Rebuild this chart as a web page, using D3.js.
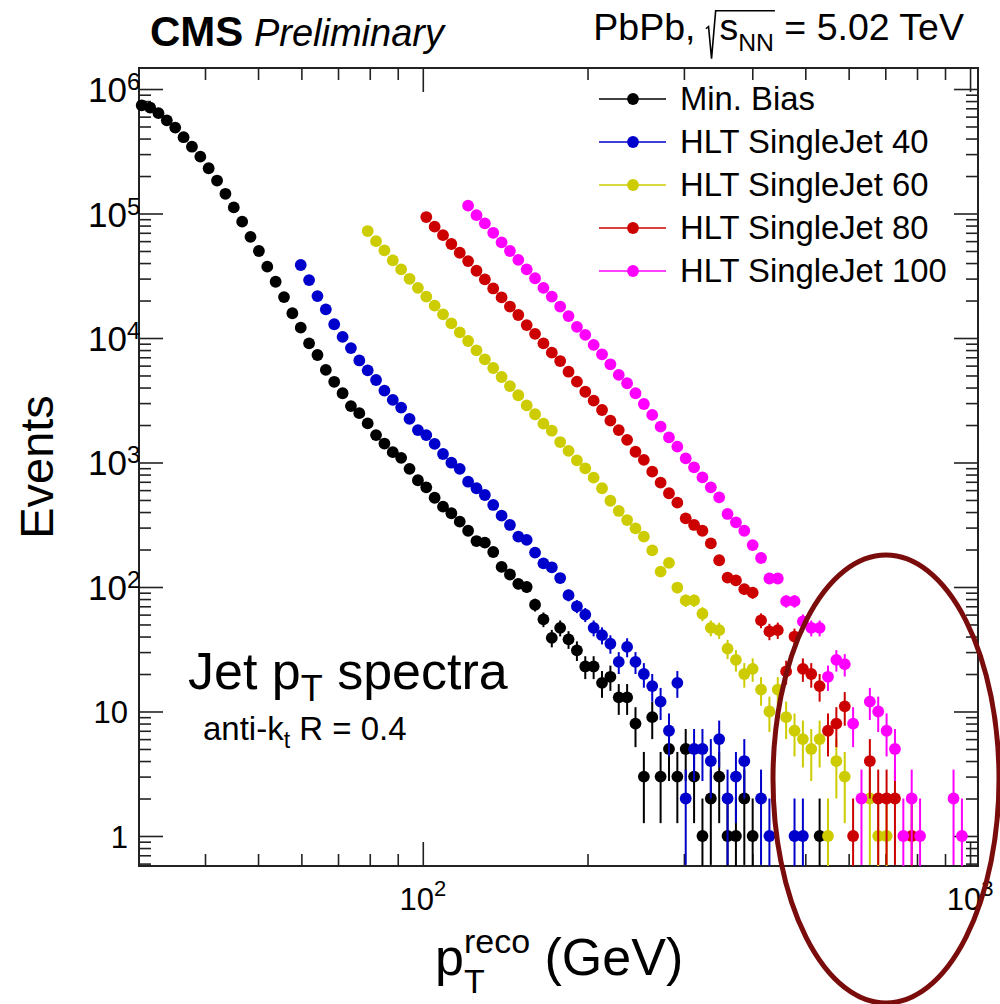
<!DOCTYPE html>
<html><head><meta charset="utf-8">
<script src="https://cdn.jsdelivr.net/npm/d3@7"></script>
<style>body{margin:0;background:#fff} svg{display:block} text{font-family:"Liberation Sans",Arial,Helvetica,sans-serif}</style>
</head><body><svg id="c" width="1000" height="1004"></svg>
<script>
// ---------------- DATA ----------------
// jet pT bin centres (GeV), log-spaced bins
const ptBins = [
  30.65, 31.75, 32.89, 34.06, 35.29, 36.55, 37.86, 39.22, 40.62, 42.08,
  43.59, 45.15, 46.77, 48.44, 50.18, 51.98, 53.84, 55.77, 57.77, 59.84,
  61.98, 64.20, 66.50, 68.89, 71.36, 73.91, 76.56, 79.31, 82.15, 85.09,
  88.14, 91.30, 94.58, 97.97, 101.48, 105.11, 108.88, 112.78, 116.82, 121.01,
  125.35, 129.84, 134.49, 139.31, 144.30, 149.47, 154.83, 160.38, 166.13, 172.08,
  178.25, 184.64, 191.26, 198.11, 205.21, 212.57, 220.19, 228.08, 236.25, 244.72,
  253.49, 262.58, 271.99, 281.74, 291.84, 302.30, 313.13, 324.35, 335.98, 348.02,
  360.49, 373.41, 386.80, 400.66, 415.02, 429.90, 445.31, 461.27, 477.80, 494.93,
  512.67, 531.04, 550.08, 569.79, 590.22, 611.37, 633.28, 655.98, 679.49, 703.85,
  729.08, 755.21, 782.27, 810.31, 839.36, 869.44, 900.60, 932.88, 966.32, 1000.95
];
const _ = null;
const minBias = [
  740000, 710000, 640000, 560000, 490000, 410000, 344000, 286000, 231000, 184000,
  144000, 112000, 86000, 65000, 50000, 37400, 28300, 21300, 15800, 12100,
  9060, 7300, 5540, 4450, 3600, 2840, 2490, 2060, 1660, 1420,
  1210, 1090, 890, 720, 632, 521, 442, 391, 335, 283,
  234, 227, 191, 145, 126, 106, 100, 72, 55, 39,
  47, 38, 31, 23, 23, 17, 19, 13, 13, 8,
  3, 9, 3, 5, 3, 5, 3, 1, 2, 3,
  1, 1, 2, 1, _, _, _, _, _, _,
  _, 1, _, _, _, _, _, _, _, _,
  _, _, _, _, _, _, _, _, _, _
];
const hlt40 = [
  _, _, _, _, _, _, _, _, _, _,
  _, _, _, _, _, _, _, _, _, 38600,
  29200, 21700, 17000, 12900, 10200, 8300, 6600, 5500, 4600, 3780,
  3180, 2760, 2240, 1820, 1660, 1410, 1170, 996, 890, 701,
  621, 548, 456, 374, 315, 254, 239, 189, 155, 144,
  118, 86, 70, 60, 47, 41, 35, 25, 33, 25,
  20, 16, 12, 7, 17, 2, 5, 5, 4, 6,
  2, 3, 4, _, 2, 1, _, _, 1, 1,
  _, _, _, _, _, _, _, _, _, _,
  _, _, _, _, _, _, _, _, _, _
];
const hlt60 = [
  _, _, _, _, _, _, _, _, _, _,
  _, _, _, _, _, _, _, _, _, _,
  _, _, _, _, _, _, _, 72300, 60000, 50600,
  42000, 35600, 29900, 25300, 21500, 18200, 15500, 13100, 11100, 9460,
  7960, 6740, 5740, 4860, 4110, 3470, 2880, 2440, 2050, 1800,
  1460, 1240, 1040, 898, 755, 621, 493, 408, 345, 296,
  254, 197, 133, 156, 99, 78, 78, 61, 47, 45,
  32, 26, 20, 22, 15, 10, 15, 9, 7, 6,
  5, 6, 1, 4, 3, _, _, 2, 1, 1,
  _, _, _, _, _, _, _, _, _, _
];
const hlt80 = [
  _, _, _, _, _, _, _, _, _, _,
  _, _, _, _, _, _, _, _, _, _,
  _, _, _, _, _, _, _, _, _, _,
  _, _, _, _, 93700, 78400, 67000, 56900, 48400, 41500,
  34700, 29600, 25000, 21200, 17900, 15300, 12700, 10800, 9060, 7620,
  6530, 5360, 4460, 3700, 3140, 2640, 2170, 1820, 1520, 1220,
  1050, 844, 689, 566, 476, 356, 315, 283, 224, 164,
  119, 113, 96, 90, 54, 44, 45, 21, 40, 22,
  20, 16, 7, 8, 11, 1, _, 4, 2, 2,
  2, _, 1, _, _, _, _, _, _, _
];
const hlt100 = [
  _, _, _, _, _, _, _, _, _, _,
  _, _, _, _, _, _, _, _, _, _,
  _, _, _, _, _, _, _, _, _, _,
  _, _, _, _, _, _, _, _, _, 115600,
  97000, 83400, 70000, 58700, 50000, 42400, 35600, 30200, 25300, 21500,
  17900, 15000, 12300, 10600, 8800, 7400, 6150, 5050, 4330, 3600,
  2950, 2410, 1940, 1590, 1340, 1080, 915, 760, 632, 525,
  386, 331, 283, 217, 171, 117, 117, 77, 77, 53,
  47, 47, 19, 26, 24, 8, 2, 12, 10, 7,
  5, 1, 2, 1, _, _, _, 2, 1, _
];
const seriesNames = ["Min. Bias", "HLT SingleJet 40", "HLT SingleJet 60", "HLT SingleJet 80", "HLT SingleJet 100"];
const seriesColors = ["#000000", "#0000cc", "#cccc00", "#cc0000", "#ff00ff"];
const xMajorTicks = [100, 1000];
const xMinorTicks = [40, 50, 60, 70, 80, 90, 200, 300, 400, 500, 600, 700, 800, 900];
const xTickLabels = [{v: 100, base: "10", exp: "2"}, {v: 1000, base: "10", exp: "3"}];
const yMajorTicks = [1, 10, 100, 1e3, 1e4, 1e5, 1e6];
const yTickLabels = [
  {v: 1, base: "1", exp: ""}, {v: 10, base: "10", exp: ""}, {v: 100, base: "10", exp: "2"},
  {v: 1e3, base: "10", exp: "3"}, {v: 1e4, base: "10", exp: "4"}, {v: 1e5, base: "10", exp: "5"},
  {v: 1e6, base: "10", exp: "6"}
];

// ---------------- CHART ----------------
const svg = d3.select("#c");
const L = 139, R = 978, T = 68, B = 866;
const yMin = 0.574, yMax = 1.475e6;
const x = d3.scaleLog().domain([30.3, 1034]).range([L, R]);
const y = d3.scaleLog().domain([yMin, yMax]).range([B, T]);

const yMinor = [];
[0.6, 0.7, 0.8, 0.9].forEach(v => yMinor.push(v));
for (let e = 0; e <= 5; e++) for (let k = 2; k <= 9; k++) yMinor.push(k * Math.pow(10, e));

const axG = svg.append("g");
function tickAxis(axis, tr, vals, len) {
  const g = axG.append("g").attr("transform", tr)
    .call(axis.tickValues(vals).tickSize(-len).tickFormat(""));
  g.select(".domain").remove();
  g.selectAll(".tick line").attr("stroke", "#222").attr("stroke-width", 1.6);
}
tickAxis(d3.axisBottom(x), `translate(0,${B})`, xMajorTicks, 24);
tickAxis(d3.axisBottom(x), `translate(0,${B})`, xMinorTicks, 12);
tickAxis(d3.axisTop(x), `translate(0,${T})`, xMajorTicks, 24);
tickAxis(d3.axisTop(x), `translate(0,${T})`, xMinorTicks, 12);
tickAxis(d3.axisLeft(y), `translate(${L},0)`, yMajorTicks, 24);
tickAxis(d3.axisLeft(y), `translate(${L},0)`, yMinor, 12);
tickAxis(d3.axisRight(y), `translate(${R},0)`, yMajorTicks, 24);
tickAxis(d3.axisRight(y), `translate(${R},0)`, yMinor, 12);

svg.append("rect").attr("x", L).attr("y", T).attr("width", R - L).attr("height", B - T)
  .attr("fill", "none").attr("stroke", "#222").attr("stroke-width", 2);

// data
const allSeries = [minBias, hlt40, hlt60, hlt80, hlt100];
const MR = 5.9;
allSeries.forEach((vals, si) => {
  const pts = ptBins.map((p, i) => ({p, v: vals[i]})).filter(d => d.v != null);
  const g = svg.append("g");
  g.selectAll("line").data(pts).join("line")
    .attr("x1", d => x(d.p)).attr("x2", d => x(d.p))
    .attr("y1", d => y(d.v + Math.sqrt(d.v)))
    .attr("y2", d => y(Math.max(d.v - Math.sqrt(d.v), yMin)))
    .attr("stroke", seriesColors[si]).attr("stroke-width", 2);
  g.selectAll("circle").data(pts).join("circle")
    .attr("cx", d => x(d.p)).attr("cy", d => y(d.v)).attr("r", MR)
    .attr("fill", seriesColors[si]);
});

// rich text helper
function rich(parent, x0, yb, parts, anchor) {
  const g = parent.append("g");
  let cx = 0, pend = 0;
  const out = [];
  parts.forEach(pt => {
    if (!pt.stack && pend > 0) { cx += pend; pend = 0; }
    if (pt.gap) { out.push({x: cx}); cx += pt.gap; return; }
    const t = g.append("text").attr("x", cx).attr("y", pt.dy || 0)
      .attr("font-size", pt.size).attr("font-weight", pt.weight || "normal")
      .attr("font-style", pt.style || "normal").attr("fill", "#000")
      .attr("xml:space", "preserve").style("white-space", "pre").text(pt.t);
    const w = t.node().getComputedTextLength();
    out.push({x: cx, w});
    if (pt.stack) pend = Math.max(pend, w); else cx += w;
  });
  cx += pend;
  const ox = anchor === "end" ? x0 - cx : anchor === "middle" ? x0 - cx / 2 : x0;
  g.attr("transform", `translate(${ox},${yb})`);
  return {g, out, width: cx, ox};
}

// tick labels
yTickLabels.forEach(d => {
  if (d.exp) {
    rich(svg, 127, y(d.v) + 13, [{t: d.base, size: 35}], "end");
    rich(svg, 127, y(d.v) + 1, [{t: d.exp, size: 24}], "start");
  } else {
    rich(svg, 128, y(d.v) + 12, [{t: d.base, size: 31}], "end");
  }
});
xTickLabels.forEach(d => {
  rich(svg, x(d.v), 910, [{t: d.base, size: 31}, {t: d.exp, size: 22, dy: -14}], "middle");
});

// axis titles
svg.append("text").attr("transform", "translate(53,467) rotate(-90)")
  .attr("text-anchor", "middle").attr("font-size", 47).text("Events");
rich(svg, 435, 975, [
  {t: "p", size: 52}, {t: "T", size: 34, dy: 18, stack: true}, {t: "reco", size: 34, dy: -22, stack: true},
  {t: " (GeV)", size: 52}
], "start");

// header
rich(svg, 150, 46, [{t: "CMS", size: 42, weight: "bold"}, {t: " ", size: 38}, {t: "Preliminary", size: 38, style: "italic"}], "start");
const hs = 37.5;
const hdr = rich(svg, 964, 40, [
  {t: "PbPb, ", size: hs}, {gap: hs * 0.36}, {t: "s", size: hs}, {t: "NN", size: hs * 0.66, dy: 11},
  {t: " = 5.02 TeV", size: hs}
], "end");
{
  const rx = hdr.out[1].x, nn = hdr.out[3];
  const endX = nn.x + nn.w + 1;
  hdr.g.append("path")
    .attr("d", `M${rx},${-0.3 * hs} L${rx + 0.07 * hs},${-0.36 * hs} L${rx + 0.15 * hs},${0.5 * hs} L${rx + 0.26 * hs},${-0.78 * hs} L${endX},${-0.78 * hs}`)
    .attr("fill", "none").attr("stroke", "#000").attr("stroke-width", 1.6);
}

// inside texts
rich(svg, 188, 689, [{t: "Jet p", size: 52}, {t: "T", size: 36, dy: 12}, {t: " spectra", size: 52}], "start");
rich(svg, 203, 740, [{t: "anti-k", size: 33}, {t: "t", size: 23, dy: 8}, {t: " R = 0.4", size: 33}], "start");

// legend
const legY = [99, 142, 185, 228, 271];
seriesNames.forEach((n, i) => {
  svg.append("line").attr("x1", 599).attr("x2", 666).attr("y1", legY[i]).attr("y2", legY[i])
    .attr("stroke", seriesColors[i]).attr("stroke-width", 1.6);
  svg.append("circle").attr("cx", 633).attr("cy", legY[i]).attr("r", MR).attr("fill", seriesColors[i]);
  svg.append("text").attr("x", 680).attr("y", legY[i] + 11).attr("font-size", 32.8).text(n);
});

// highlight ellipse
svg.append("ellipse").attr("cx", 886).attr("cy", 779).attr("rx", 113).attr("ry", 224)
  .attr("fill", "none").attr("stroke", "#7a0c0c").attr("stroke-width", 5);
</script>
</body></html>
